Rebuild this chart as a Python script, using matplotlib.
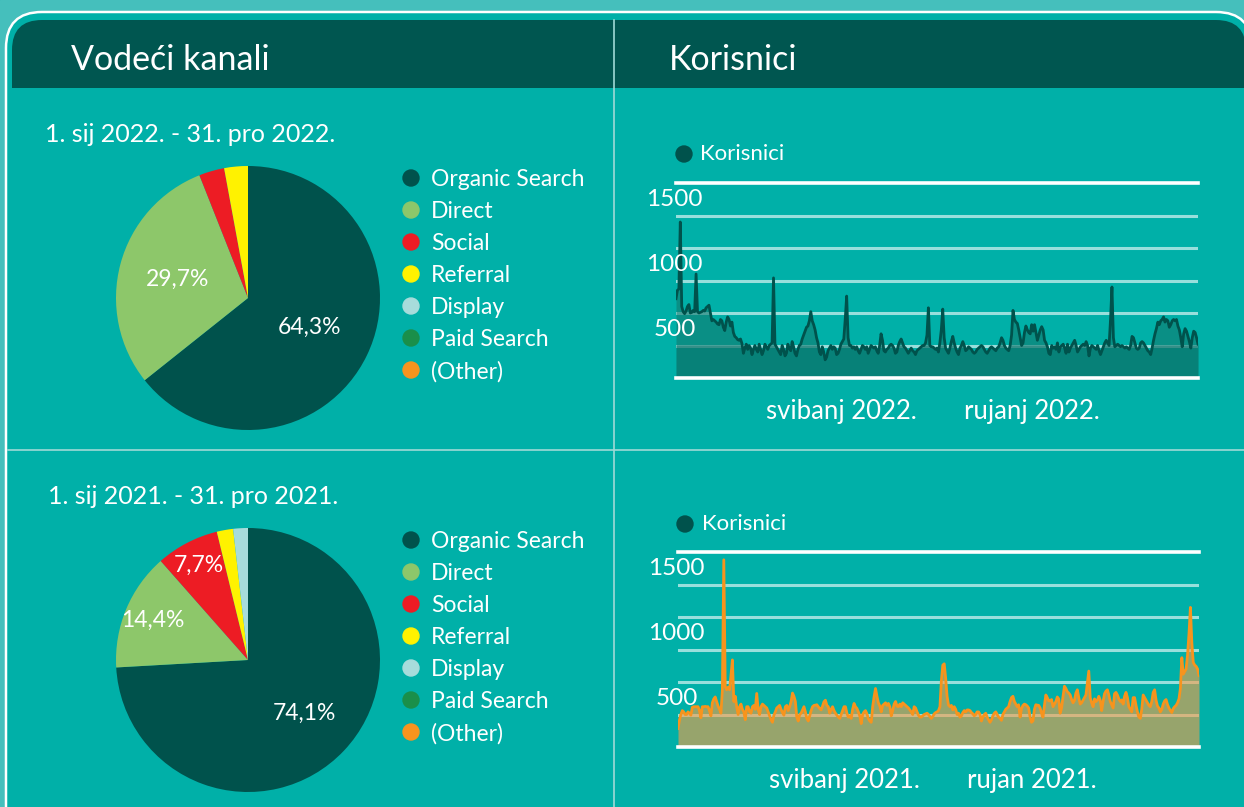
import numpy as np
import pandas as pd
import matplotlib
matplotlib.use("Agg")
import matplotlib.pyplot as plt
from matplotlib.patches import Rectangle, FancyBboxPatch, Circle
from matplotlib.transforms import blended_transform_factory

plt.rcParams['font.family'] = ['Lato', 'DejaVu Sans']

# ---- data ----
channels = ["Organic Search", "Direct", "Social", "Referral", "Display", "Paid Search", "(Other)"]
channel_colors = ["#00524c", "#8dc76a", "#ed1c24", "#fff200", "#a7dcdb", "#1a8f4a", "#f7941d"]

share_2022 = [64.3, 29.7, 3.1, 2.9, 0, 0, 0]
share_2021 = [74.1, 14.4, 7.7, 2.0, 1.8, 0, 0]

period_2022 = "1. sij 2022. - 31. pro 2022."
period_2021 = "1. sij 2021. - 31. pro 2021."

# daily users, 2022
users_2022 = [
  860, 925, 935, 1450, 800, 760, 745,
  765, 800, 815, 750, 755, 770, 760,
  1050, 760, 750, 755, 760, 770, 765,
  790, 800, 810, 750, 690, 700, 690,
  680, 665, 660, 700, 690, 640, 615,
  680, 720, 700, 650, 680, 600, 570,
  560, 545, 540, 550, 515, 440, 480,
  510, 470, 500, 480, 430, 470, 500,
  470, 450, 510, 470, 430, 460, 510,
  490, 470, 500, 510, 520, 1020, 510,
  490, 470, 450, 430, 500, 470, 420,
  440, 510, 480, 460, 530, 490, 440,
  420, 470, 500, 510, 550, 580, 610,
  640, 650, 690, 760, 690, 660, 620,
  560, 520, 450, 430, 490, 450, 390,
  410, 460, 480, 500, 470, 490, 480,
  430, 440, 470, 510, 530, 550, 700,
  880, 560, 500, 500, 480, 490, 470,
  490, 460, 440, 470, 500, 490, 470,
  490, 440, 470, 500, 490, 480, 490,
  460, 440, 500, 590, 540, 460, 450,
  470, 480, 500, 510, 500, 480, 440,
  450, 500, 530, 550, 520, 490, 480,
  460, 440, 460, 480, 460, 450, 430,
  460, 470, 480, 490, 500, 500, 520,
  580, 790, 500, 490, 490, 480, 470,
  480, 450, 520, 620, 780, 560, 480,
  460, 440, 480, 530, 570, 520, 480,
  450, 430, 480, 500, 530, 500, 460,
  470, 490, 480, 470, 450, 440, 450,
  470, 480, 490, 500, 490, 470, 450,
  440, 460, 480, 490, 480, 470, 460,
  480, 490, 520, 560, 540, 500, 480,
  470, 460, 500, 580, 770, 700, 680,
  670, 620, 560, 500, 520, 600, 650,
  620, 600, 590, 660, 610, 660, 600,
  540, 580, 620, 645, 620, 540, 520,
  490, 440, 430, 500, 480, 490, 470,
  520, 450, 490, 500, 510, 480, 440,
  510, 450, 480, 500, 520, 540, 500,
  450, 470, 490, 500, 510, 500, 530,
  500, 420, 480, 500, 490, 480, 470,
  500, 460, 430, 460, 490, 520, 540,
  520, 500, 700, 950, 560, 490, 500,
  510, 500, 490, 500, 490, 480, 490,
  480, 470, 500, 570, 560, 520, 480,
  470, 480, 520, 530, 520, 500, 480,
  460, 450, 430, 480, 540, 590, 630,
  680, 660, 690, 700, 720, 680, 700,
  690, 640, 660, 690, 700, 690, 700,
  650, 620, 560, 490, 590, 630, 610,
  570, 530, 480, 560, 610, 600, 560,
  510,
]

# daily users, 2021
users_2021 = [
  392, 456, 500, 530, 520, 500, 500,
  520, 510, 495, 555, 560, 560, 560,
  560, 530, 475, 560, 560, 562, 560,
  560, 530, 490, 590, 620, 635, 600,
  565, 540, 510, 690, 1690, 715, 690,
  710, 690, 800, 920, 600, 640, 560,
  500, 560, 580, 540, 520, 460, 560,
  560, 520, 510, 560, 570, 540, 662,
  540, 500, 560, 580, 570, 560, 550,
  520, 490, 460, 440, 495, 520, 550,
  560, 570, 540, 515, 495, 560, 570,
  530, 560, 600, 665, 640, 600, 480,
  450, 500, 510, 535, 560, 520, 470,
  450, 490, 530, 560, 570, 572, 575,
  560, 545, 535, 565, 598, 610, 570,
  560, 510, 540, 560, 530, 510, 495,
  480, 470, 500, 530, 560, 560, 510,
  480, 490, 470, 540, 585, 560, 547,
  520, 490, 430, 500, 520, 530, 505,
  470, 450, 440, 560, 637, 700, 640,
  590, 565, 520, 570, 580, 590, 570,
  585, 560, 490, 530, 580, 600, 565,
  560, 580, 560, 590, 580, 570, 560,
  550, 535, 520, 500, 560, 550, 520,
  495, 480, 480, 490, 500, 505, 510,
  500, 485, 470, 485, 505, 515, 520,
  530, 560, 760, 880, 890, 780, 640,
  572, 560, 570, 535, 560, 540, 500,
  510, 480, 490, 515, 530, 520, 535,
  535, 530, 515, 505, 490, 500, 520,
  520, 500, 450, 480, 500, 510, 480,
  460, 440, 460, 490, 510, 520, 500,
  480, 470, 455, 500, 520, 540, 550,
  560, 600, 630, 640, 600, 580, 560,
  575, 480, 545, 570, 580, 575, 565,
  550, 480, 440, 450, 540, 575, 572,
  570, 550, 510, 480, 570, 650, 630,
  605, 605, 615, 560, 580, 600, 635,
  620, 510, 550, 640, 718, 700, 675,
  665, 650, 615, 590, 610, 665, 690,
  630, 580, 590, 610, 630, 650, 740,
  834, 630, 590, 560, 620, 600, 610,
  640, 610, 530, 600, 660, 680, 690,
  650, 600, 575, 550, 660, 670, 650,
  620, 600, 612, 580, 640, 670, 630,
  560, 540, 520, 630, 630, 570, 520,
  480, 470, 540, 650, 630, 610, 590,
  570, 560, 600, 670, 690, 610, 565,
  550, 520, 540, 580, 605, 615, 576,
  550, 530, 515, 545, 560, 570, 590,
  620, 700, 937, 810, 830, 850, 960,
  1120, 1324, 1050, 900, 880, 870, 850,
  800,
]

dates_2022 = pd.date_range("2022-01-01", periods=len(users_2022), freq="D")
dates_2021 = pd.date_range("2021-01-01", periods=len(users_2021), freq="D")

month_ticks_2022 = ["2022-04-26", "2022-09-06"]
month_labels_2022 = ["svibanj 2022.", "rujanj 2022."]
month_ticks_2021 = ["2021-04-27", "2021-09-05"]
month_labels_2021 = ["svibanj 2021.", "rujan 2021."]

y_labels = [500, 1000, 1500]

W, H = 1244, 807
BG = "#00b0a8"
DARK = "#005650"


def px_axes(fig, x0, y0, x1, y1):
  # pixel box (top-left origin) -> figure axes
  return fig.add_axes([x0 / W, 1 - y1 / H, (x1 - x0) / W, (y1 - y0) / H])


def draw_pie(fig, cx, cy, r, shares, label_dist):
  ax = px_axes(fig, cx - r, cy - r, cx + r, cy + r)
  wedges, _ = ax.pie(shares, colors=channel_colors, startangle=90, counterclock=False,
                     radius=1, wedgeprops=dict(linewidth=0))
  ax.set_xlim(-1, 1)
  ax.set_ylim(-1, 1)
  for w, val, d in zip(wedges, shares, label_dist):
    if d is None:
      continue
    th = np.deg2rad((w.theta1 + w.theta2) / 2)
    ax.text(d * np.cos(th), d * np.sin(th), f"{val:.1f}%".replace(".", ","),
            ha="center", va="center", color="white", fontsize=16.5)
  return ax


def draw_users(fig, box, dates, values, line_color, fill_color, fill_alpha,
               ticks, tick_labels, dark_base=False):
  ax = px_axes(fig, *box)
  ax.set_facecolor("none")
  vals = np.array(values, dtype=float)
  ax.set_xlim(dates[0], dates[-1])
  ax.set_ylim(250, 1750)
  for v in [500, 750, 1000, 1250, 1500]:
    ax.axhline(v, color="white", alpha=0.6, lw=2.2, zorder=1)
  for v in [250, 1750]:
    ax.axhline(v, color="white", lw=2.6, zorder=4, clip_on=False)
  ax.fill_between(dates, 250, vals, color=fill_color, alpha=fill_alpha, lw=0, zorder=2)
  if dark_base:
    ax.fill_between(dates, 250, np.minimum(vals, 500), color="#005a54", alpha=0.25, lw=0, zorder=2)
  ax.plot(dates, vals, color=line_color, lw=2.0, zorder=3)

  tr = blended_transform_factory(ax.transAxes, ax.transData)
  for v in y_labels:
    ax.text(-0.003, v + 125, str(v), transform=tr, ha="center", va="center",
            color="white", fontsize=17.5, zorder=5)

  ax.set_yticks([])
  ax.set_xticks(pd.to_datetime(ticks))
  ax.set_xticklabels(tick_labels, color="white", fontsize=18.5)
  ax.tick_params(axis="x", length=0, pad=15)
  for s in ax.spines.values():
    s.set_visible(False)
  return ax


fig = plt.figure(figsize=(W / 100, H / 100), dpi=100)
fig.patch.set_facecolor(BG)

bg = fig.add_axes([0, 0, 1, 1])
bg.set_zorder(-1)
bg.set_xlim(0, W)
bg.set_ylim(H, 0)
bg.axis("off")

bg.add_patch(Rectangle((0, 0), W, H, color="#45bfbc"))
bg.add_patch(FancyBboxPatch((6, 12), 1246, 900, boxstyle="round,pad=0,rounding_size=36",
                            fc=BG, ec="white", lw=1.8))
bg.add_patch(FancyBboxPatch((12, 20), 1234, 140, boxstyle="round,pad=0,rounding_size=30",
                            fc=DARK, ec="none"))
bg.add_patch(Rectangle((8, 88), 1240, 80, fc=BG, ec="none"))

bg.plot([614, 614], [20, H], color="#9fdad6", lw=1.2)
bg.plot([8, W], [450, 450], color="#9fdad6", lw=1.2)

bg.text(71, 60, "Vodeći kanali", color="white", fontsize=24.5, va="center")
bg.text(669, 60, "Korisnici", color="white", fontsize=24.5, va="center")

bg.text(45, 134, period_2022, color="white", fontsize=18, va="center")
bg.text(48, 497, period_2021, color="white", fontsize=18, va="center")

for top in (178, 540):
  for i, (name, c) in enumerate(zip(channels, channel_colors)):
    y = top + 32 * i
    bg.add_patch(Circle((411, y), 8, color=c))
    bg.text(431, y + 1.5, name, color="white", fontsize=16.5, va="center")

for (cx, cy, tx) in [(684, 154, 700), (685, 524, 702)]:
  bg.add_patch(Circle((cx, cy), 8, color="#00524c"))
  bg.text(tx, cy, "Korisnici", color="white", fontsize=16, va="center")

draw_pie(fig, 248, 298, 132, share_2022, [0.52, 0.55, None, None, None, None, None])
draw_pie(fig, 248, 660, 132, share_2021, [0.59, 0.78, 0.81, None, None, None, None])

draw_users(fig, (676, 183, 1198, 378), dates_2022, users_2022, "#00524c", "#12796e", 0.6,
           month_ticks_2022, month_labels_2022, dark_base=True)
draw_users(fig, (678, 552, 1199, 747), dates_2021, users_2021, "#f7941d", "#fd9c44", 0.6,
           month_ticks_2021, month_labels_2021)

fig.savefig("out.png", dpi=100, facecolor=fig.get_facecolor())
